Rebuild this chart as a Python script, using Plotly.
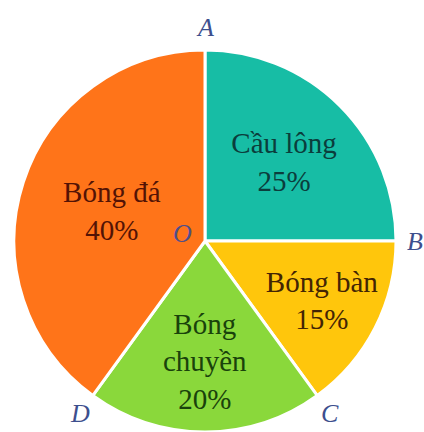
import math
import plotly.graph_objects as go

# Sports share (percent), clockwise from the top
sports = ["Cầu lông", "Bóng bàn", "Bóng chuyền", "Bóng đá"]
shares = [25, 15, 20, 40]
slice_labels = ["Cầu lông<br>25%", "Bóng bàn<br>15%", "Bóng<br>chuyền<br>20%", "Bóng đá<br>40%"]
fill_colors = ["#17BDA5", "#FFC60C", "#8AD83B", "#FF7419"]
text_colors = ["#0B3D3C", "#432404", "#19420B", "#531305"]
boundary_names = ["A", "B", "C", "D"]

W, H = 424, 432
cx, cy, R = 205, 241, 191  # pie centre and radius in pixels

fig = go.Figure(go.Pie(
    labels=sports,
    values=shares,
    sort=False,
    direction="clockwise",
    rotation=0,
    text=slice_labels,
    textinfo="text",
    textposition="inside",
    insidetextorientation="horizontal",
    textfont=dict(family="Liberation Serif", size=29, color=text_colors),
    marker=dict(colors=fill_colors, line=dict(color="white", width=3)),
    domain=dict(x=[(cx - R) / W, (cx + R) / W], y=[0, 2 * R / H]),
    hoverinfo="label+percent",
    showlegend=False,
))

# Point names on the circle at each slice boundary
annotations = []
total = sum(shares)
cum = 0
label_r = R + 22
for name, v in zip(boundary_names, shares):
    theta = 2 * math.pi * cum / total
    px = cx + label_r * math.sin(theta)
    py = cy - label_r * math.cos(theta)
    px = min(px, W - 9)  # keep the right-hand name inside the page
    annotations.append(dict(
        x=px / W, y=1 - py / H, xref="paper", yref="paper",
        text=f"<i>{name}</i>", showarrow=False,
        xanchor="center", yanchor="middle",
        font=dict(family="Liberation Serif", size=26, color="#3D4F8E"),
    ))
    cum += v

annotations.append(dict(
    x=(cx - 23) / W, y=1 - (cy - 8) / H, xref="paper", yref="paper",
    text="<i>O</i>", showarrow=False, xanchor="center", yanchor="middle",
    font=dict(family="Liberation Serif", size=26, color="#4F4F8A"),
))

fig.update_layout(
    width=W, height=H,
    margin=dict(l=0, r=0, t=0, b=0),
    paper_bgcolor="white",
    plot_bgcolor="white",
    uniformtext=dict(minsize=29, mode="show"),
    annotations=annotations,
)

fig.write_html("out.html")
